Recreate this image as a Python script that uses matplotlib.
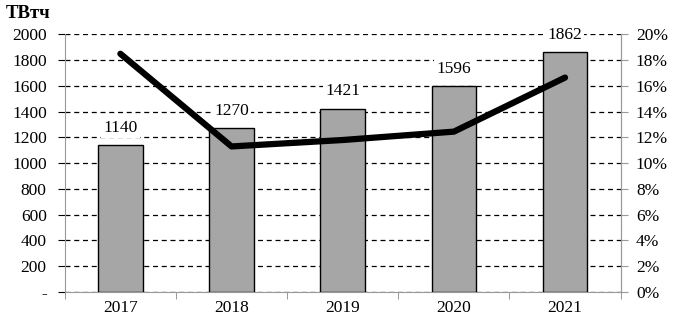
import matplotlib.pyplot as plt
from matplotlib.ticker import FuncFormatter

years = ['2017', '2018', '2019', '2020', '2021']
generation = [1140, 1270, 1421, 1596, 1862]
share = [18.5, 11.3, 11.8, 12.45, 16.65]

plt.rcParams['font.family'] = 'Liberation Serif'
plt.rcParams['font.size'] = 12.5

fig, ax = plt.subplots(figsize=(6.82, 3.28), dpi=100)
fig.subplots_adjust(left=0.095, right=0.91, top=0.895, bottom=0.11)

x = range(len(years))
ax.bar(x, generation, width=0.4, color='#a6a6a6', edgecolor='black', linewidth=1, zorder=3)
for xi, v in zip(x, generation):
    ax.text(xi, v + 75, str(v), ha='center', va='bottom', zorder=4,
            bbox=dict(facecolor='white', edgecolor='none', pad=1.5))

ax.set_ylim(0, 2000)
ax.set_xlim(-0.5, 4.5)
ax.set_yticks(range(0, 2001, 200))
ax.yaxis.set_major_formatter(FuncFormatter(lambda v, p: '-' if v == 0 else f'{int(v)}'))
ax.set_xticks(list(x))
ax.set_xticklabels(years)
ax.set_xticks([i + 0.5 for i in range(-1, 5)], minor=True)
ax.tick_params(axis='x', which='major', length=0, pad=6)
ax.tick_params(axis='x', which='minor', length=5, color='#888888')
ax.tick_params(axis='y', length=5, color='black', pad=8)
ax.grid(axis='y', linestyle=(0, (4, 3)), color='black', linewidth=0.9, zorder=0)
ax.spines['top'].set_visible(False)
for s in ['left', 'right', 'bottom']:
    ax.spines[s].set_color('#999999')

ax2 = ax.twinx()
ax2.plot(list(x), share, color='black', linewidth=4.5, solid_capstyle='round', zorder=5)
ax2.set_ylim(0, 20)
ax2.set_yticks(range(0, 21, 2))
ax2.yaxis.set_major_formatter(FuncFormatter(lambda v, p: f'{int(v)}%'))
ax2.tick_params(axis='y', length=5, color='#999999', pad=6)
ax2.spines['top'].set_visible(False)
ax2.spines['right'].set_color('#999999')
ax2.spines['left'].set_visible(False)
ax2.spines['bottom'].set_visible(False)

fig.text(0.008, 0.945, 'ТВтч', fontweight='bold', fontsize=13.5)

fig.savefig('out.png', dpi=100)
